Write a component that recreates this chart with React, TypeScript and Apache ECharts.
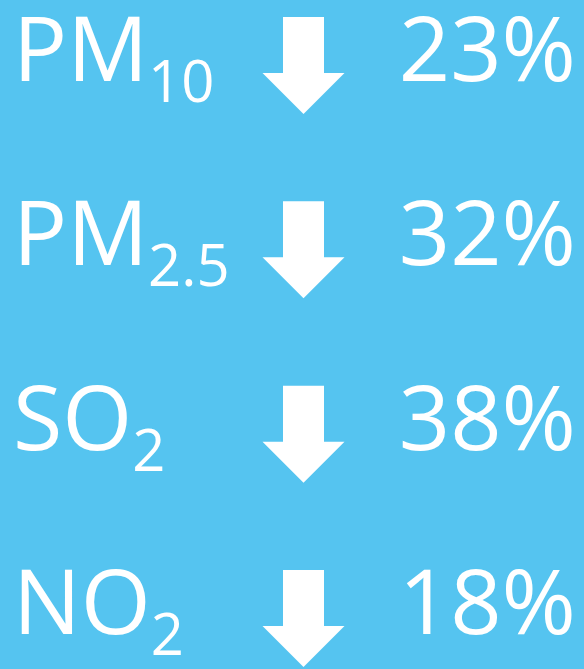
import React, { useEffect, useRef } from "react";
import * as echarts from "echarts";

// Data
const pollutants = ["PM", "PM", "SO", "NO"];
const subscripts = ["10", "2.5", "2", "2"];
const decreases = [23, 32, 38, 18];

const W = 584;
const H = 669;
const BG = "#55C4F0";
const FONT = "'Open Sans', 'Noto Sans', sans-serif";
const MAIN_SIZE = 90;
const SUB_SIZE = 58;

let measureCtx: CanvasRenderingContext2D | null = null;
function measure(text: string, size: number): number {
  if (!measureCtx) measureCtx = document.createElement("canvas").getContext("2d");
  if (!measureCtx) return text.length * size * 0.6;
  measureCtx.font = `${size}px ${FONT}`;
  return measureCtx.measureText(text).width;
}

export default function App() {
  const ref = useRef<HTMLDivElement>(null);
  useEffect(() => {
    if (!ref.current) return;
    const chart = echarts.init(ref.current, null, { renderer: "svg" });
    const data = pollutants.map((_, i) => [0, i]);
    chart.setOption({
      animation: false,
      backgroundColor: BG,
      grid: { left: 0, right: 0, top: 49, bottom: H - 602 },
      xAxis: { type: "value", min: 0, max: 1, show: false },
      yAxis: { type: "value", min: 0, max: 3, inverse: true, show: false },
      series: [
        {
          type: "custom",
          data,
          silent: true,
          renderItem: (params: any, api: any) => {
            const i = api.value(1) as number;
            const c = api.coord([0, i])[1];
            const mainX = 13;
            const mainW = measure(pollutants[i], MAIN_SIZE);
            const top = c - 32;
            const cx = 303.5;
            return {
              type: "group",
              children: [
                {
                  type: "text",
                  style: {
                    text: pollutants[i],
                    x: mainX,
                    y: c - 3,
                    fill: "#fff",
                    fontSize: MAIN_SIZE,
                    fontFamily: FONT,
                    lineHeight: 76,
                    align: "left",
                    verticalAlign: "middle",
                  },
                },
                {
                  type: "text",
                  style: {
                    text: subscripts[i],
                    x: mainX + mainW,
                    y: c + 30.5,
                    fill: "#fff",
                    fontSize: SUB_SIZE,
                    fontFamily: FONT,
                    lineHeight: 48,
                    align: "left",
                    verticalAlign: "middle",
                  },
                },
                {
                  type: "polygon",
                  shape: {
                    points: [
                      [cx - 20.5, top],
                      [cx + 20.5, top],
                      [cx + 20.5, top + 56],
                      [cx + 41, top + 56],
                      [cx, top + 97],
                      [cx - 41, top + 56],
                      [cx - 20.5, top + 56],
                    ],
                  },
                  style: { fill: "#fff" },
                },
                {
                  type: "text",
                  style: {
                    text: decreases[i] + "%",
                    x: 576,
                    y: c - 3,
                    fill: "#fff",
                    fontSize: MAIN_SIZE,
                    fontFamily: FONT,
                    lineHeight: 76,
                    align: "right",
                    verticalAlign: "middle",
                  },
                },
              ],
            };
          },
        },
      ],
    });
    return () => chart.dispose();
  }, []);
  return (
    <div
      ref={ref}
      style={{ position: "fixed", left: 0, top: 0, width: W, height: H }}
    />
  );
}
